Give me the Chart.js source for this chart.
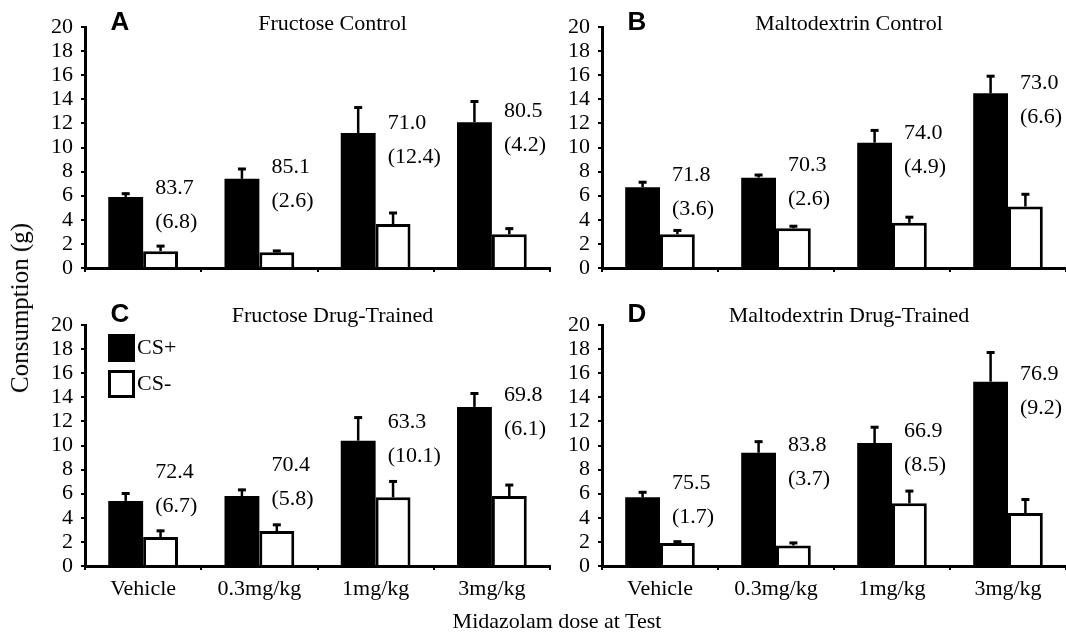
<!DOCTYPE html>
<html>
<head>
<meta charset="utf-8">
<script src="https://cdn.jsdelivr.net/npm/chart.js@4.4.1/dist/chart.umd.min.js"></script>
<style>
  body { margin: 0; background: #fff; }
  #fig { position: relative; width: 1066px; height: 634px; font-family: "Liberation Serif", serif; color: #000; }
  canvas { position: absolute; }
  .axisTitle { position: absolute; font-size: 22px; white-space: nowrap; transform: translate(-50%, -50%); }
  #ytitle { left: 20px; top: 308px; font-size: 25px; transform: translate(-50%, -50%) rotate(-90deg); }
  #xtitle { left: 557px; top: 621px; }
</style>
</head>
<body>
<div id="fig">
  <canvas id="panelA" width="556" height="300" style="left:0;top:0"></canvas>
  <canvas id="panelB" width="510" height="300" style="left:556px;top:0"></canvas>
  <canvas id="panelC" width="556" height="334" style="left:0;top:300px"></canvas>
  <canvas id="panelD" width="510" height="334" style="left:556px;top:300px"></canvas>
  <div class="axisTitle" id="ytitle">Consumption (g)</div>
  <div class="axisTitle" id="xtitle">Midazolam dose at Test</div>
</div>
<script>
// doses on the x axis
const doses = ["Vehicle", "0.3mg/kg", "1mg/kg", "3mg/kg"];
const yMin = 0, yMax = 20, yStep = 2;

// A - Fructose Control
const aPlus = [5.9, 7.4, 11.2, 12.1];
const aPlusErr = [0.35, 0.9, 2.2, 1.8];
const aMinus = [1.4, 1.3, 3.65, 2.8];
const aMinusErr = [0.5, 0.2, 1.0, 0.55];
const aPref = [83.7, 85.1, 71.0, 80.5];
const aPrefSem = [6.8, 2.6, 12.4, 4.2];
const aNoteY = [6.6, 8.4, 12.0, 13.0];

// B - Maltodextrin Control
const bPlus = [6.7, 7.5, 10.4, 14.5];
const bPlusErr = [0.5, 0.3, 1.1, 1.5];
const bMinus = [2.8, 3.3, 3.75, 5.1];
const bMinusErr = [0.4, 0.25, 0.55, 1.1];
const bPref = [71.8, 70.3, 74.0, 73.0];
const bPrefSem = [3.6, 2.6, 4.9, 6.6];
const bNoteY = [7.7, 8.5, 11.2, 15.35];

// C - Fructose Drug-Trained
const cPlus = [5.4, 5.8, 10.4, 13.2];
const cPlusErr = [0.7, 0.6, 2.0, 1.2];
const cMinus = [2.4, 2.9, 5.7, 5.8];
const cMinusErr = [0.6, 0.6, 1.4, 1.0];
const cPref = [72.4, 70.4, 63.3, 69.8];
const cPrefSem = [6.7, 5.8, 10.1, 6.1];
const cNoteY = [7.8, 8.4, 11.9, 14.2];

// D - Maltodextrin Drug-Trained
const dPlus = [5.7, 9.4, 10.2, 15.3];
const dPlusErr = [0.5, 1.0, 1.4, 2.5];
const dMinus = [1.9, 1.7, 5.2, 4.4];
const dMinusErr = [0.2, 0.3, 1.1, 1.2];
const dPref = [75.5, 83.8, 66.9, 76.9];
const dPrefSem = [1.7, 3.7, 8.5, 9.2];
const dNoteY = [6.9, 10.0, 11.2, 15.9];

Chart.defaults.font.family = '"Liberation Serif", serif';
Chart.defaults.color = "#000";

// upward error bars with a small cap
const errorBars = {
  id: "errorBars",
  afterDatasetsDraw(chart) {
    const ctx = chart.ctx;
    const y = chart.scales.y;
    ctx.save();
    ctx.strokeStyle = "#000";
    chart.data.datasets.forEach((ds, i) => {
      chart.getDatasetMeta(i).data.forEach((bar, j) => {
        const top = y.getPixelForValue(ds.data[j] + ds.errors[j]);
        ctx.lineWidth = 2.5;
        ctx.beginPath();
        ctx.moveTo(bar.x, bar.y);
        ctx.lineTo(bar.x, top);
        ctx.stroke();
        ctx.lineWidth = 3;
        ctx.beginPath();
        ctx.moveTo(bar.x - 4, top + 1);
        ctx.lineTo(bar.x + 4, top + 1);
        ctx.stroke();
      });
    });
    ctx.restore();
  }
};

// preference % and (sem) written beside each dose group
const prefNotes = {
  id: "prefNotes",
  afterDraw(chart, args, opts) {
    const ctx = chart.ctx;
    const x = chart.scales.x, y = chart.scales.y;
    ctx.save();
    ctx.font = '22px "Liberation Serif"';
    ctx.fillStyle = "#000";
    ctx.textAlign = "left";
    ctx.textBaseline = "middle";
    opts.pref.forEach((p, j) => {
      const px = x.getPixelForValue(j) + 12;
      const py = y.getPixelForValue(opts.noteY[j]);
      ctx.fillText(p.toFixed(1), px, py);
      ctx.fillText("(" + opts.sem[j].toFixed(1) + ")", px, py + 34);
    });
    ctx.restore();
  }
};

// panel letter and title
const panelHead = {
  id: "panelHead",
  afterDraw(chart, args, opts) {
    const ctx = chart.ctx;
    const a = chart.chartArea;
    ctx.save();
    ctx.fillStyle = "#000";
    ctx.textBaseline = "middle";
    ctx.textAlign = "center";
    ctx.font = 'bold 26px "Liberation Sans"';
    ctx.fillText(opts.letter, a.left + 35, a.top - opts.dy);
    ctx.font = '22px "Liberation Serif"';
    ctx.fillText(opts.title, (a.left + a.right) / 2 + 15, a.top - opts.dy + 1);
    ctx.restore();
  }
};

// boxed legend inside panel C
const boxLegend = {
  id: "boxLegend",
  afterDraw(chart, args, opts) {
    if (!opts.show) return;
    const ctx = chart.ctx;
    const a = chart.chartArea;
    ctx.save();
    ctx.font = '22px "Liberation Serif"';
    ctx.textBaseline = "middle";
    chart.data.datasets.forEach((ds, i) => {
      const bx = a.left + 23, by = a.top + 9 + i * 36;
      ctx.fillStyle = ds.backgroundColor;
      ctx.fillRect(bx, by, 27, 28);
      ctx.strokeStyle = "#000";
      ctx.lineWidth = 3;
      ctx.strokeRect(bx + 1.5, by + 1.5, 24, 25);
      ctx.fillStyle = "#000";
      ctx.fillText(ds.label, bx + 29, by + 14);
    });
    ctx.restore();
  }
};

function makePanel(id, p) {
  return new Chart(document.getElementById(id), {
    type: "bar",
    data: {
      labels: doses,
      datasets: [
        { label: "CS+", data: p.plus, errors: p.plusErr, backgroundColor: "#000",
          borderColor: "#000", borderWidth: 0, categoryPercentage: 0.6, barPercentage: 1 },
        { label: "CS-", data: p.minus, errors: p.minusErr, backgroundColor: "#fff",
          borderColor: "#000", borderWidth: 3, categoryPercentage: 0.6, barPercentage: 1 }
      ]
    },
    options: {
      responsive: false,
      animation: false,
      layout: { padding: { top: p.top, right: p.right, left: 0, bottom: 0 } },
      scales: {
        x: {
          grid: { drawOnChartArea: false, color: "#000", lineWidth: 2, tickLength: 4 },
          border: { color: "#000", width: 3 },
          ticks: { display: p.showX, font: { size: 22 }, padding: 6, maxRotation: 0, autoSkip: false },
          afterFit: (s) => { s.height = p.xh; }
        },
        y: {
          min: yMin, max: yMax,
          ticks: { stepSize: yStep, autoSkip: false, font: { size: 22 }, padding: 8 },
          grid: { drawOnChartArea: false, color: "#000", lineWidth: 2, tickLength: 4 },
          border: { color: "#000", width: 3 },
          afterFit: (s) => { s.width = p.yw; }
        }
      },
      plugins: {
        legend: { display: false },
        tooltip: { enabled: false },
        prefNotes: { pref: p.pref, sem: p.sem, noteY: p.noteY },
        panelHead: { letter: p.letter, title: p.title, dy: p.dy },
        boxLegend: { show: !!p.legend }
      }
    },
    plugins: [errorBars, prefNotes, panelHead, boxLegend]
  });
}

makePanel("panelA", { letter: "A", title: "Fructose Control", plus: aPlus, plusErr: aPlusErr,
  minus: aMinus, minusErr: aMinusErr, pref: aPref, sem: aPrefSem, noteY: aNoteY,
  top: 27, right: 6, yw: 85, xh: 32, showX: false, dy: 4 });
makePanel("panelB", { letter: "B", title: "Maltodextrin Control", plus: bPlus, plusErr: bPlusErr,
  minus: bMinus, minusErr: bMinusErr, pref: bPref, sem: bPrefSem, noteY: bNoteY,
  top: 27, right: 0, yw: 46, xh: 32, showX: false, dy: 4 });
makePanel("panelC", { letter: "C", title: "Fructose Drug-Trained", plus: cPlus, plusErr: cPlusErr,
  minus: cMinus, minusErr: cMinusErr, pref: cPref, sem: cPrefSem, noteY: cNoteY,
  top: 25, right: 6, yw: 85, xh: 68, showX: true, dy: 10, legend: true });
makePanel("panelD", { letter: "D", title: "Maltodextrin Drug-Trained", plus: dPlus, plusErr: dPlusErr,
  minus: dMinus, minusErr: dMinusErr, pref: dPref, sem: dPrefSem, noteY: dNoteY,
  top: 25, right: 0, yw: 46, xh: 68, showX: true, dy: 10 });
</script>
</body>
</html>
